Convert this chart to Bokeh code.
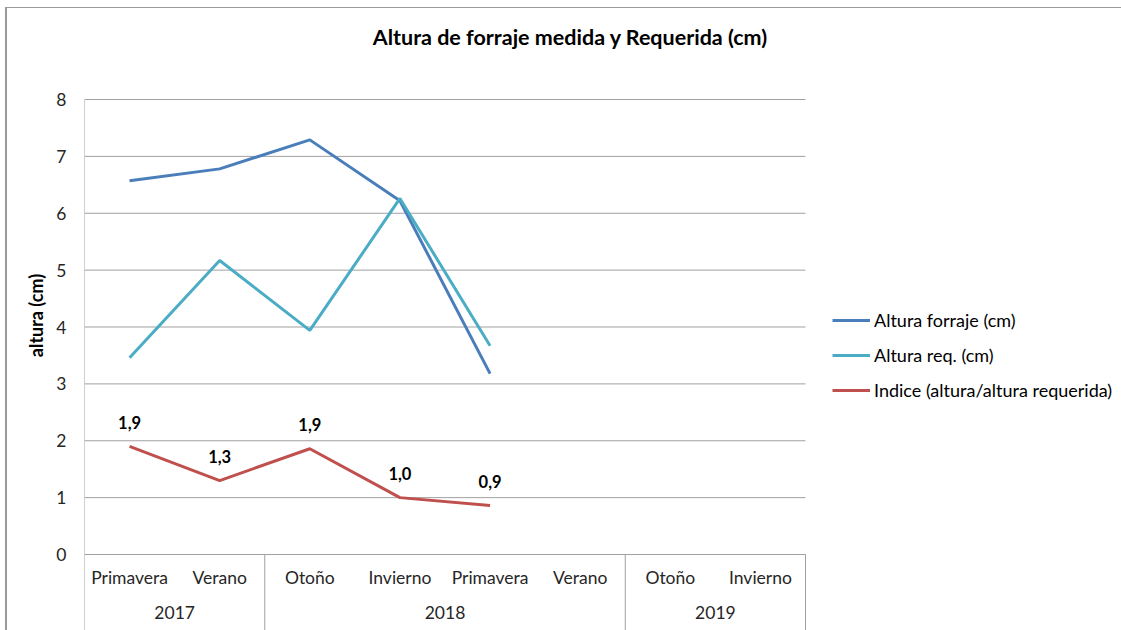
from bokeh.plotting import figure
from bokeh.models import Range1d, FixedTicker, Legend, LegendItem
from bokeh.core.properties import value
from bokeh.embed import file_html
from bokeh.resources import INLINE

# ---- data ----
title_text = "Altura de forraje medida y Requerida (cm)"
seasons = ["Primavera", "Verano", "Otoño", "Invierno", "Primavera", "Verano", "Otoño", "Invierno"]
years = ["2017", "2018", "2019"]
year_counts = [2, 4, 2]
altura_forraje = [6.57, 6.78, 7.29, 6.22, 3.18]
altura_req = [3.46, 5.17, 3.94, 6.26, 3.67]
indice = [1.90, 1.30, 1.86, 1.00, 0.86]
y_ticks = [0, 1, 2, 3, 4, 5, 6, 7, 8]
series_names = ["Altura forraje (cm)", "Altura req. (cm)", "Indice (altura/altura requerida)"]
colors = ["#4A7EBB", "#4BACC6", "#C0504D"]

FONT = "Lato"
GRID = "#a0a0a0"
TXT = "#262626"

n_cat = len(seasons)
cx = [i + 0.5 for i in range(n_cat)]

PX_X = 90.125   # px per category
PX_Y = 56.875   # px per y unit
W, H = 1121, 630
LEFT = 84
Y0 = 554        # pixel row of y=0
frame_w = W - LEFT

p = figure(width=W, height=H, output_backend="svg", toolbar_location=None,
           x_range=Range1d(0, frame_w / PX_X),
           y_range=Range1d(-(H - Y0) / PX_Y, Y0 / PX_Y),
           x_axis_location=None,
           min_border_left=LEFT, min_border_right=0, min_border_top=0, min_border_bottom=0)
p.title.visible = False
p.outline_line_color = None
p.background_fill_color = None
p.border_fill_color = None
p.xgrid.visible = False
p.ygrid.visible = False
p.styles = {"background": "linear-gradient(#9a9a9a,#9a9a9a) 5px 7px / 2px 100% no-repeat, "
                          "linear-gradient(#9a9a9a,#9a9a9a) 5px 7px / 100% 1px no-repeat, #ffffff"}

ax = p.yaxis[0]
ax.ticker = FixedTicker(ticks=y_ticks)
ax.bounds = (min(y_ticks), max(y_ticks))
ax.axis_line_color = None
ax.major_tick_line_color = None
ax.minor_tick_line_color = None
ax.major_tick_out = 0
ax.major_tick_in = 0
ax.major_label_standoff = 18
ax.major_label_text_font = FONT
ax.major_label_text_font_size = "17.5px"
ax.major_label_text_color = TXT
ax.axis_label = "altura (cm)"
ax.axis_label_text_font = FONT
ax.axis_label_text_font_style = "bold"
ax.axis_label_text_font_size = "18px"
ax.axis_label_text_color = "#000000"
ax.axis_label_standoff = 6

ymin = p.y_range.start

# horizontal gridlines (within category area only)
p.segment(x0=[0] * len(y_ticks), x1=[n_cat] * len(y_ticks), y0=y_ticks, y1=y_ticks,
          line_color=GRID, line_width=1)

# vertical lines of the category axis
bounds = [0]
for c in year_counts:
    bounds.append(bounds[-1] + c)
p.segment(x0=[0], x1=[0], y0=[max(y_ticks)], y1=[ymin], line_color=GRID, line_width=1)
p.segment(x0=bounds[1:], x1=bounds[1:], y0=[0] * (len(bounds) - 1), y1=[ymin] * (len(bounds) - 1),
          line_color=GRID, line_width=1)

# category labels
p.text(x=cx, y=[-23 / PX_Y] * n_cat, text=seasons, text_align="center", text_baseline="middle",
       text_font=value(FONT), text_font_size="17.5px", text_color=TXT)
year_x = [(bounds[i] + bounds[i + 1]) / 2 for i in range(len(years))]
p.text(x=year_x, y=[-58 / PX_Y] * len(years), text=years, text_align="center", text_baseline="middle",
       text_font=value(FONT), text_font_size="17.5px", text_color=TXT)

# series
r1 = p.line(cx[:len(altura_forraje)], altura_forraje, line_color=colors[0], line_width=3)
r2 = p.line(cx[:len(altura_req)], altura_req, line_color=colors[1], line_width=3)
r3 = p.line(cx[:len(indice)], indice, line_color=colors[2], line_width=3)

labels = [f"{v:.1f}".replace(".", ",") for v in indice]
p.text(x=cx[:len(indice)], y=indice, text=labels, text_align="center", text_baseline="middle",
       y_offset=-24, text_font=value(FONT), text_font_style="bold", text_font_size="16.5px",
       text_color="#000000")

# title
p.text(x=[(570 - LEFT) / PX_X], y=[(Y0 - 36) / PX_Y], text=[title_text], text_align="center",
       text_baseline="middle", text_font=value(FONT), text_font_style="bold",
       text_font_size="21.5px", text_color="#000000")

legend = Legend(items=[LegendItem(label=series_names[0], renderers=[r1]),
                       LegendItem(label=series_names[1], renderers=[r2]),
                       LegendItem(label=series_names[2], renderers=[r3])],
                location=(832 - LEFT, H - 401), border_line_color=None, background_fill_alpha=0,
                padding=0, margin=0, spacing=13, glyph_width=38, glyph_height=20,
                label_height=20, label_standoff=4, label_text_font=FONT,
                label_text_font_size="18px", label_text_color="#000000")
p.add_layout(legend)

open("out.html", "w").write(file_html(p, INLINE))
